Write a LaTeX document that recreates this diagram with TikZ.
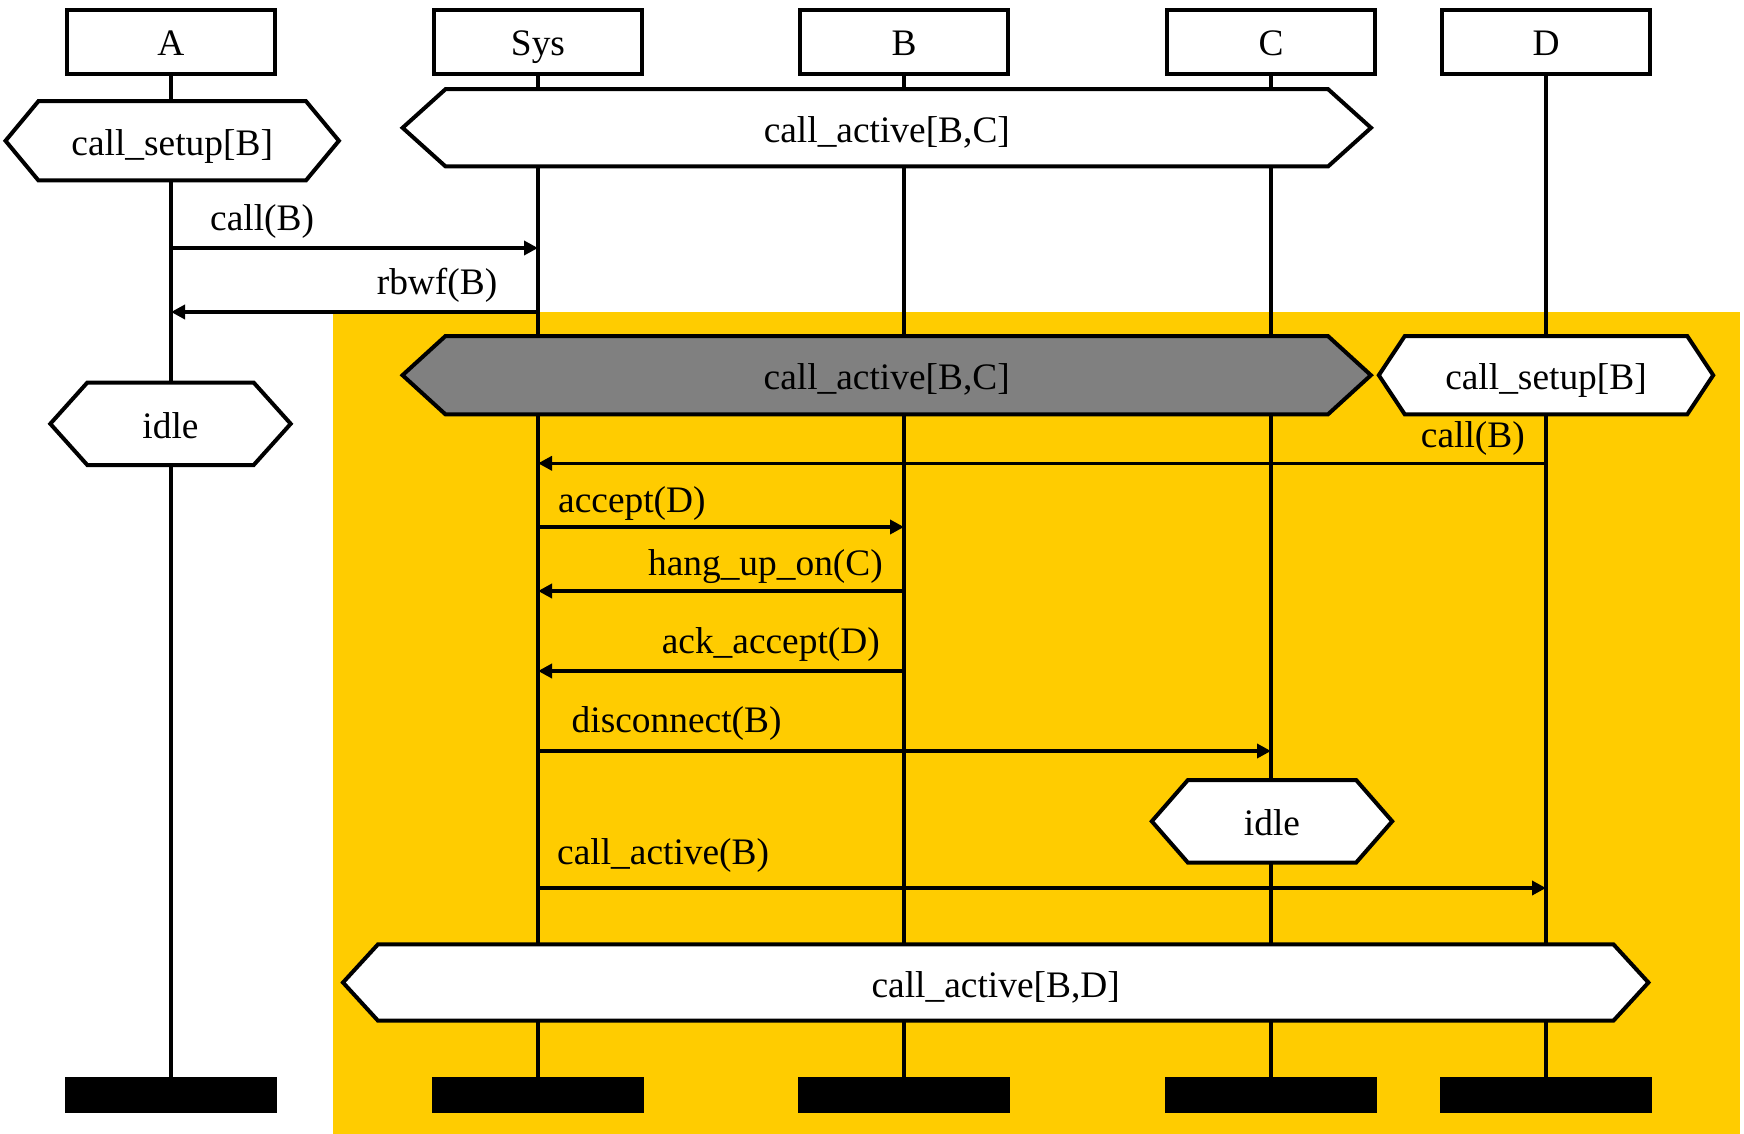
\documentclass[tikz,border=0pt]{standalone}
\usepackage{fontspec}
\setmainfont{Liberation Serif}
\usetikzlibrary{arrows.meta}

\definecolor{band}{RGB}{255,204,0}
\definecolor{shade}{RGB}{128,128,128}

\pgfdeclarelayer{back}
\pgfdeclarelayer{life}
\pgfdeclarelayer{frame}
\pgfsetlayers{back,life,frame,main}

% hexagonal condition frame around a named node: #1 node, #2 point inset, #3 fill
\newcommand\hexframe[3]{%
  \begin{pgfonlayer}{frame}
    \filldraw[frameline,fill=#3]
      ([xshift=#2]#1.north west) -- ([xshift=-#2]#1.north east) -- (#1.east)
      -- ([xshift=-#2]#1.south east) -- ([xshift=#2]#1.south west) -- (#1.west) -- cycle;
  \end{pgfonlayer}}

\tikzset{
  every node/.style={font=\fontsize{37.4}{44}\selectfont},
  head/.style={draw, line width=4pt, fill=white, minimum width=208pt,
    minimum height=64pt, inner sep=0pt, text height=36pt, text depth=8.2pt},
  foot/.style={fill=black, minimum width=212pt, minimum height=36pt, inner sep=0pt},
  statebox/.style={inner sep=0pt, text height=37.4pt, text depth=8.2pt},
  frameline/.style={line join=miter, line width=4pt},
  lifeline/.style={line width=3.5pt},
  msg/.style={line width=3.5pt, -{Triangle[length=14pt,width=14pt]}},
  lbl/.style={inner sep=0pt},
}

\begin{document}
\begin{tikzpicture}[x=1pt,y=-1pt]
\useasboundingbox (0,0) rectangle (1744,1134);

% highlighted region
\begin{pgfonlayer}{back}
  \fill[band] (333,312) rectangle (1740,1134);
\end{pgfonlayer}

% instance heads
\node[head] (hA)   at (171,41.7)  {A};
\node[head] (hSys) at (538,41.7)  {Sys};
\node[head] (hB)   at (904,41.7)  {B};
\node[head] (hC)   at (1271,41.7) {C};
\node[head] (hD)   at (1546,41.7) {D};

% instance ends
\node[foot] (fA)   at (171,1094.7)  {};
\node[foot] (fSys) at (538,1094.7)  {};
\node[foot] (fB)   at (904,1094.7)  {};
\node[foot] (fC)   at (1271,1094.7) {};
\node[foot] (fD)   at (1546,1094.7) {};

% lifelines
\begin{pgfonlayer}{life}
  \foreach \n in {A,Sys,B,C,D}
    \draw[lifeline] (h\n.south) -- (f\n.north);
\end{pgfonlayer}

% conditions
\node[statebox, minimum width=333pt, minimum height=79pt] (setupA) at (172.2,140.8) {call\_setup[B]};
\hexframe{setupA}{33pt}{white}
\node[statebox, minimum width=968pt, minimum height=77pt] (activeBC) at (886.8,127.8) {call\_active[B,C]};
\hexframe{activeBC}{43pt}{white}
\node[statebox, minimum width=968pt, minimum height=78pt] (activeBCg) at (886.7,375.2) {call\_active[B,C]};
\hexframe{activeBCg}{43pt}{shade}
\node[statebox, minimum width=334pt, minimum height=78pt] (setupD) at (1546,375.2) {call\_setup[B]};
\hexframe{setupD}{26pt}{white}
\node[statebox, minimum width=240pt, minimum height=82pt] (idleA) at (170.5,423.8) {idle};
\hexframe{idleA}{37pt}{white}
\node[statebox, minimum width=240pt, minimum height=82pt] (idleC) at (1272,821.3) {idle};
\hexframe{idleC}{36pt}{white}
\node[statebox, minimum width=1305pt, minimum height=76pt] (activeBD) at (995.7,982.5) {call\_active[B,D]};
\hexframe{activeBD}{35pt}{white}

% message rows
\coordinate (r1) at (0,248);
\coordinate (r2) at (0,312);
\coordinate (r3) at (0,463.3);
\coordinate (r4) at (0,527);
\coordinate (r5) at (0,591);
\coordinate (r6) at (0,671);
\coordinate (r7) at (0,751);
\coordinate (r8) at (0,888);

% messages
\draw[msg] (hA |- r1)   -- (hSys |- r1);
\draw[msg] (hSys |- r2) -- (hA |- r2);
\draw[msg] (hD |- r3)   -- (hSys |- r3);
\draw[msg] (hSys |- r4) -- (hB |- r4);
\draw[msg] (hB |- r5)   -- (hSys |- r5);
\draw[msg] (hB |- r6)   -- (hSys |- r6);
\draw[msg] (hSys |- r7) -- (hC |- r7);
\draw[msg] (hSys |- r8) -- (hD |- r8);

% message labels
\node[lbl, anchor=base west] (m1) at (210,230)   {call(B)};
\node[lbl, anchor=base east] (m2) at (497.5,294) {rbwf(B)};
\node[lbl, anchor=base east] (m3) at (1525,447)  {call(B)};
\node[lbl, anchor=base west] (m4) at (558,512)   {accept(D)};
\node[lbl, anchor=base east] (m5) at (883,575)   {hang\_up\_on(C)};
\node[lbl, anchor=base east] (m6) at (880,653)   {ack\_accept(D)};
\node[lbl, anchor=base west] (m7) at (571.5,732) {disconnect(B)};
\node[lbl, anchor=base west] (m8) at (557,864)   {call\_active(B)};
\end{tikzpicture}
\end{document}
